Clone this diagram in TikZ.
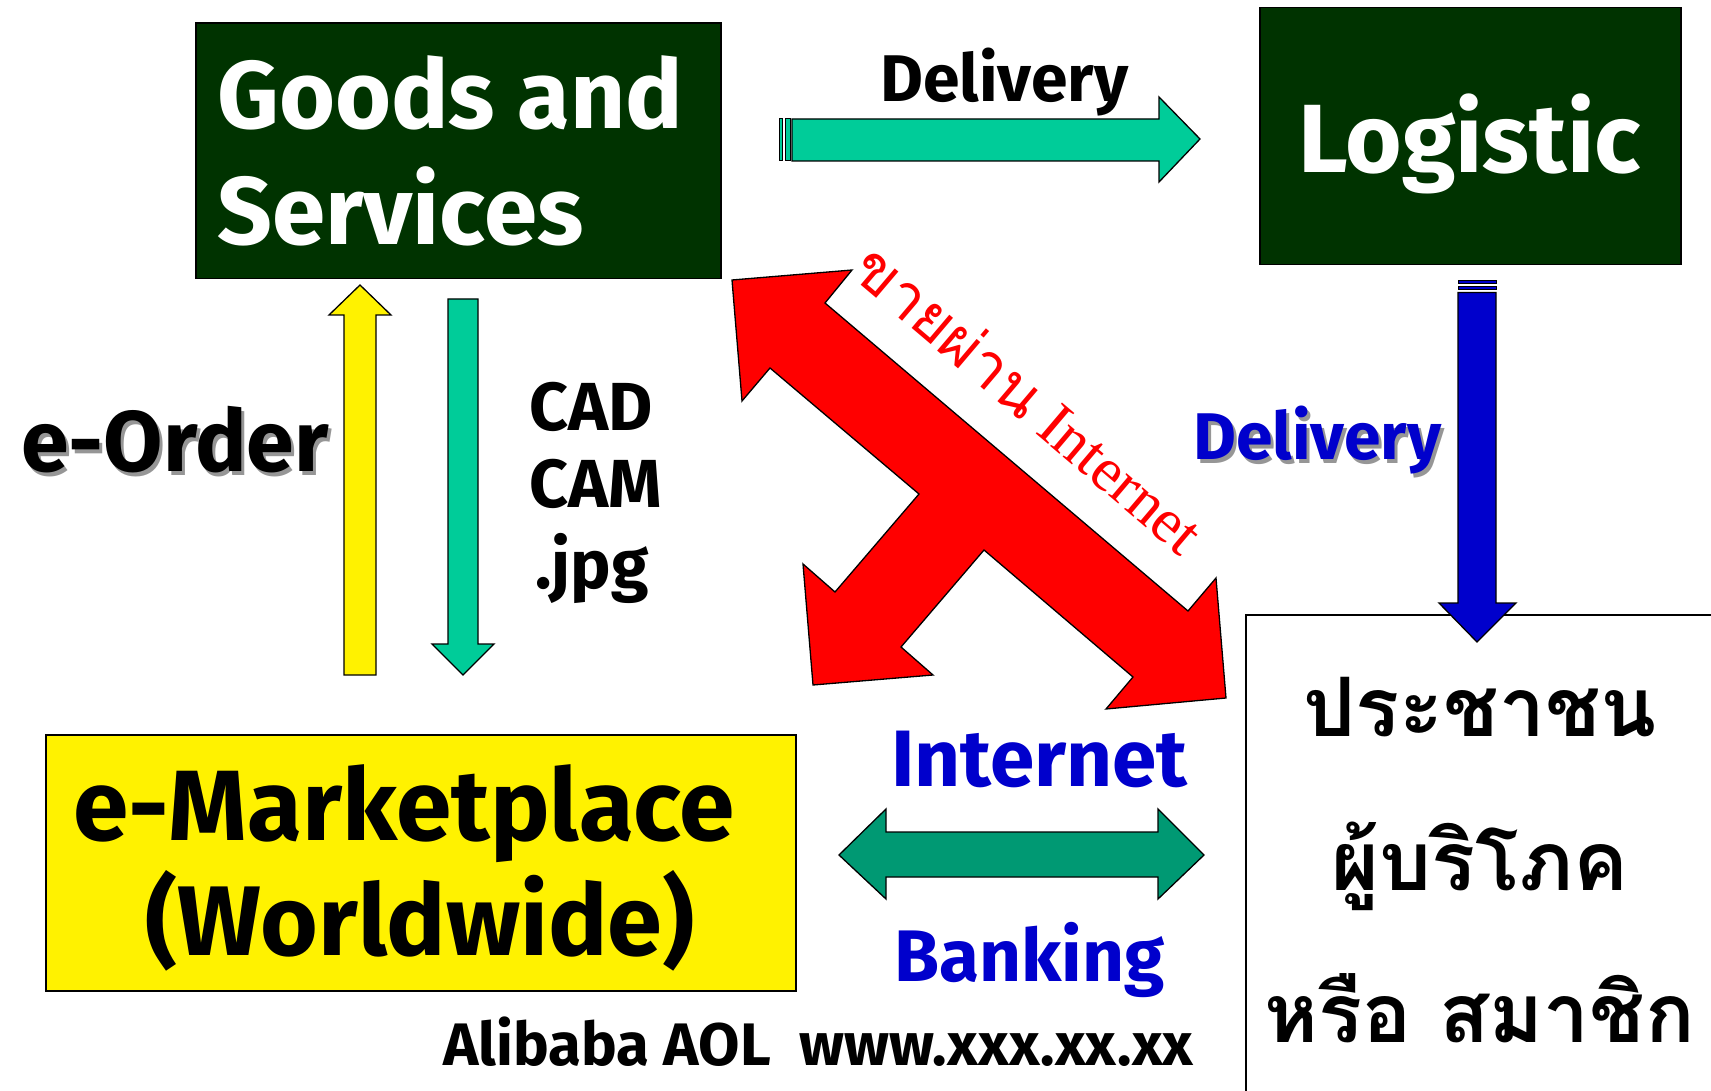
\documentclass[tikz,border=0pt]{standalone}
\usepackage{fontspec}
\setmainfont{Fira Sans}
\newfontfamily\thaifont[Script=Thai]{Loma}
\newfontfamily\timesfont{Liberation Serif}
\definecolor{boxgreen}{RGB}{0,51,0}
\definecolor{teal}{RGB}{0,204,153}
\definecolor{dgreen}{RGB}{0,153,115}
\definecolor{dblue}{RGB}{0,0,204}
\definecolor{shadowgray}{RGB}{150,150,150}
\newcommand\fsz[1]{\fontsize{#1}{#1}\selectfont\bfseries}
\newcommand\thsz[1]{\thaifont\fontsize{#1}{#1}\selectfont\bfseries}
\tikzset{
  box/.style={draw=black, line width=1.5pt, inner sep=0pt, anchor=north west},
  darkbox/.style={box, fill=boxgreen},
  blockarrow/.style={draw=black, line width=1.3pt, line join=miter},
  txt/.style={inner sep=0pt, anchor=base west},
  ctxt/.style={inner sep=0pt, anchor=base},
}
\begin{document}
\begin{tikzpicture}[x=1pt,y=-1pt]
\useasboundingbox (0,0) rectangle (1711,1091);
\clip (0,0) rectangle (1711,1091);

% boxes
\node[darkbox, minimum width=525pt, minimum height=255.5pt] (goods) at (195,22.5) {};
\node[darkbox, minimum width=421pt, minimum height=257pt] (logistic) at (1259,7) {};
\node[box, fill=yellow, minimum width=750pt, minimum height=256pt] (market) at (45,734) {};
\node[box, fill=white, minimum width=600pt, minimum height=600pt] (consumer) at (1245,614) {};

% box texts
\node[txt, text=white, font=\fsz{96}] (goods1) at (217,129) {Goods and};
\node[txt, text=white, font=\fsz{96}] (goods2) at (217,245) {Services};
\node[ctxt, text=white, font=\fsz{97}] (logtxt) at (1469.5,173) {Logistic};
\node[ctxt, font=\fsz{100}] (mk1) at (404,840) {e-Marketplace};
\node[ctxt, font=\fsz{99}] (mk2) at (420,955) {(Worldwide)};
\node[ctxt, font=\thsz{82}] (th1) at (1480,736) {ประชาชน};
\node[ctxt, font=\thsz{82}] (th2) at (1480,890) {ผู้บริโภค};
\node[ctxt, font=\thsz{82}] (th3) at (1480,1042) {หรือ สมาชิก};

% top teal arrow (Delivery)
\draw[blockarrow, fill=teal, line width=1pt] (779,119) rectangle (782,161);
\draw[blockarrow, fill=teal, line width=1pt] (785,119) rectangle (790,161);
\draw[blockarrow, fill=teal] (792,119) -- (1159,119) -- (1159,97) -- (1200,139) -- (1159,182) -- (1159,161) -- (792,161) -- cycle;

% yellow up arrow (e-Order)
\draw[blockarrow, fill=yellow] (344,675) -- (344,315) -- (329,315) -- (360,285) -- (391,315) -- (376,315) -- (376,675) -- cycle;

% teal down arrow (CAD)
\draw[blockarrow, fill=teal] (448,299) -- (478,299) -- (478,644) -- (494,644) -- (463,675) -- (432,644) -- (448,644) -- cycle;

% blue down arrow
\draw[blockarrow, fill=dblue, line width=1pt] (1458,281) rectangle (1496,284);
\draw[blockarrow, fill=dblue, line width=1pt] (1458,286.5) rectangle (1496,290);
\draw[blockarrow, fill=dblue] (1458,292.5) -- (1496,292.5) -- (1496,603) -- (1516,603) -- (1477,642) -- (1439,603) -- (1458,603) -- cycle;

% green double arrow
\draw[blockarrow, fill=dgreen] (839,855) -- (886,809) -- (886,832) -- (1158,832) -- (1158,809) -- (1204,855) -- (1158,899) -- (1158,877) -- (886,877) -- (886,899) -- cycle;

% red three-headed arrow
\draw[blockarrow, fill=red] (732,280) -- (852,270) -- (825,303) -- (1188,611) -- (1216,578) -- (1226,698) -- (1106,709) -- (1133,677) -- (984,550) -- (901,647) -- (933,675) -- (813,685) -- (803,564) -- (835,592) -- (919,494) -- (770,368) -- (742,401) -- cycle;
\node[rotate=-40.3, inner sep=0pt, text=red, anchor=center] (sell) at (1030,398)
  {\fontsize{62}{62}\selectfont{\thaifont ขายผ่าน} \timesfont Internet};

% labels
\node[txt, font=\fsz{66}] (deltop) at (880,102) {Delivery};
\node[txt, text=shadowgray, font=\fsz{86}] (ordshadow) at (24,475) {e-Order};
\node[txt, font=\fsz{86}] (order) at (21,471) {e-Order};
\node[txt, font=\fsz{68}] (cad) at (529,430) {CAD};
\node[txt, font=\fsz{68}] (cam) at (529,507) {CAM};
\node[txt, font=\fsz{68}] (jpg) at (535,588) {.jpg};
\node[txt, text=shadowgray, font=\fsz{66}] (delshadow) at (1196,463) {Delivery};
\node[txt, text=dblue, font=\fsz{66}] (delblue) at (1193,459) {Delivery};
\node[txt, text=dblue, font=\fsz{80}] (inet) at (891,786) {Internet};
\node[txt, text=dblue, font=\fsz{73}] (bank) at (894,981) {Banking};
\node[txt, font=\fsz{60}] (sites) at (443,1065) {Alibaba AOL\ \ www.xxx.xx.xx};
\end{tikzpicture}
\end{document}
